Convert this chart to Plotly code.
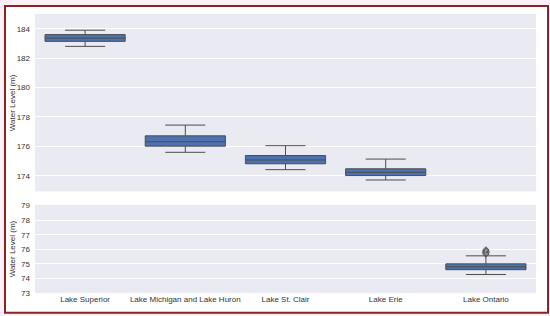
import plotly.graph_objects as go

lakes = ['Lake Superior', 'Lake Michigan and Lake Huron', 'Lake St. Clair', 'Lake Erie', 'Lake Ontario']

# upper panel (four upper lakes)
top_lakes = lakes[:4]
top_low = [182.8, 175.6, 174.42, 173.72]
top_q1 = [183.14, 176.02, 174.82, 174.02]
top_med = [183.36, 176.32, 175.08, 174.24]
top_q3 = [183.6, 176.72, 175.38, 174.48]
top_high = [183.9, 177.45, 176.05, 175.14]

# lower panel (Lake Ontario)
bot_lakes = lakes[4:]
bot_low = [74.27]
bot_q1 = [74.6]
bot_med = [74.8]
bot_q3 = [75.0]
bot_high = [75.55]
ontario_outliers = [75.68, 75.78, 75.86, 75.95]

box_fill = '#4c72b0'
line_col = '#4d4d4d'
tick_font = dict(family='Liberation Sans, Arial, sans-serif', size=8, color='#333333')

fig = go.Figure()

fig.add_trace(go.Box(
    x=top_lakes, q1=top_q1, median=top_med, q3=top_q3,
    lowerfence=top_low, upperfence=top_high,
    width=0.8, whiskerwidth=0.5, fillcolor=box_fill,
    line=dict(color=line_col, width=1), boxpoints=False,
    xaxis='x', yaxis='y', showlegend=False))

fig.add_trace(go.Box(
    x=bot_lakes, q1=bot_q1, median=bot_med, q3=bot_q3,
    lowerfence=bot_low, upperfence=bot_high,
    width=0.8, whiskerwidth=0.5, fillcolor=box_fill,
    line=dict(color=line_col, width=1), boxpoints=False,
    xaxis='x2', yaxis='y2', showlegend=False))

fig.add_trace(go.Scatter(
    x=['Lake Ontario'] * len(ontario_outliers), y=ontario_outliers,
    mode='markers', marker=dict(symbol='diamond-open', size=5, color=line_col, line=dict(width=1)),
    xaxis='x2', yaxis='y2', showlegend=False))

xax = dict(type='category', categoryorder='array', categoryarray=lakes, range=[-0.5, 4.5],
           showgrid=False, zeroline=False, showline=False, ticks='', tickfont=tick_font,
           automargin=False)
yax = dict(gridcolor='white', gridwidth=1, zeroline=False, tickfont=tick_font,
           automargin=False, ticks='', ticklabelstandoff=4)
fig.update_layout(
    width=550, height=316,
    margin=dict(l=35, r=14, t=14, b=23, autoexpand=False),
    paper_bgcolor='white', plot_bgcolor='#eaeaf2',
    xaxis=dict(xax, anchor='y', showticklabels=False, matches='x2'),
    xaxis2=dict(xax, anchor='y2'),
    yaxis=dict(yax, domain=[0.364, 1], range=[172.94, 185], tickvals=[174, 176, 178, 180, 182, 184]),
    yaxis2=dict(yax, domain=[0, 0.316], range=[73, 79.05], dtick=1),
)

for yc in [(0.364 + 1) / 2, 0.316 / 2]:
    fig.add_annotation(text='Water Level (m)', xref='paper', yref='paper', x=-0.045, y=yc,
                       textangle=-90, showarrow=False, xanchor='center', yanchor='middle',
                       font=dict(tick_font, size=8))

# dark red frame and faint pink surround
pink = '#fdf0f6'
for x0, y0, x1, y1 in [(-0.08, -0.09, 1.03, -0.0705), (-0.08, 1.0286, 1.03, 1.06),
                       (-0.08, -0.09, -0.0599, 1.06), (1.024, -0.09, 1.03, 1.06)]:
    fig.add_shape(type='rect', xref='paper', yref='paper', x0=x0, y0=y0, x1=x1, y1=y1,
                  fillcolor=pink, line=dict(width=0), layer='below')
fig.add_shape(type='rect', xref='paper', yref='paper', x0=-0.0599, y0=-0.0705, x1=1.024, y1=1.0286,
              line=dict(color='#8b2323', width=2), fillcolor='rgba(0,0,0,0)')

fig.write_html('out.html', config={'displayModeBar': False},
               post_script="document.body.style.margin='0px';")
